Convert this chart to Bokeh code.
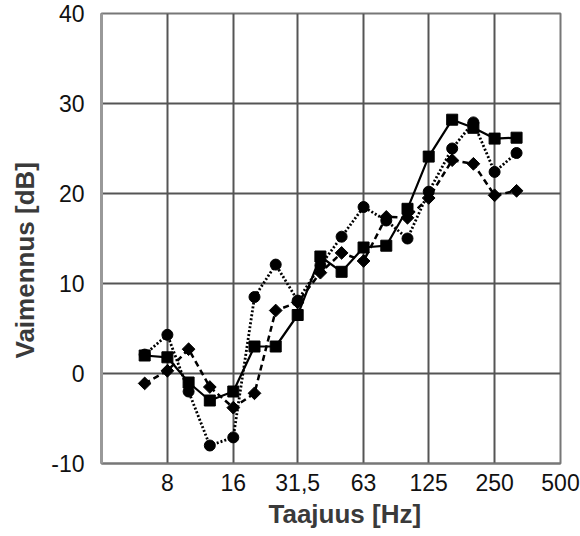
import math
from bokeh.plotting import figure
from bokeh.models import FixedTicker, Title, Range1d
from bokeh.embed import file_html
from bokeh.resources import INLINE

# third-octave band centre frequencies [Hz]
freqs = [6.3, 8, 10, 12.5, 16, 20, 25, 31.5, 40, 50, 63, 80, 100, 125, 160, 200, 250, 315]

# attenuation [dB] per series
series_square = [2.0, 1.8, -1.0, -3.0, -2.0, 3.0, 3.0, 6.5, 13.0, 11.3, 14.0, 14.2, 18.3, 24.1, 28.2, 27.3, 26.1, 26.2]
series_circle = [2.1, 4.3, -2.0, -8.0, -7.1, 8.5, 12.1, 8.1, 12.0, 15.2, 18.5, 17.0, 15.0, 20.2, 25.0, 27.9, 22.4, 24.5]
series_diamond = [-1.1, 0.3, 2.7, -1.5, -3.8, -2.2, 7.0, 7.9, 11.2, 13.4, 12.5, 17.4, 17.3, 19.5, 23.7, 23.3, 19.8, 20.3]

x_ticks = [8, 16, 31.5, 63, 125, 250, 500]
x_tick_labels = ["8", "16", "31,5", "63", "125", "250", "500"]
y_ticks = [-10, 0, 10, 20, 30, 40]
y_tick_labels = ["-10", "0", "10", "20", "30", "40"]

FONT = "Liberation Sans"

p = figure(width=580, height=536, x_axis_type="log",
           x_range=Range1d(4, 500), y_range=Range1d(-10, 40),
           output_backend="svg", toolbar_location=None,
           min_border_left=100, min_border_right=20,
           min_border_top=13, min_border_bottom=73)
p.background_fill_color = "white"
p.border_fill_color = "white"
p.outline_line_color = "#777777"
p.outline_line_width = 2

# axes
p.xaxis.ticker = FixedTicker(ticks=x_ticks, minor_ticks=[])
p.xaxis.major_label_overrides = dict(zip(x_ticks, x_tick_labels))
p.yaxis.ticker = FixedTicker(ticks=y_ticks, minor_ticks=[])
p.yaxis.major_label_overrides = dict(zip(y_ticks, y_tick_labels))
for ax in (p.xaxis, p.yaxis):
    ax.major_tick_line_color = None
    ax.minor_tick_line_color = None
    ax.major_label_text_font = FONT
    ax.major_label_text_font_size = "23px"
    ax.major_label_text_color = "#111111"
p.xaxis.axis_line_color = "#777777"
p.xaxis.axis_line_width = 2
p.yaxis.axis_line_color = "#999999"
p.yaxis.axis_line_width = 3
p.xaxis.major_label_standoff = 4
p.yaxis.major_label_standoff = 11

# grid
p.xgrid.ticker = FixedTicker(ticks=x_ticks, minor_ticks=[])
p.ygrid.ticker = FixedTicker(ticks=y_ticks, minor_ticks=[])
for g in (p.xgrid, p.ygrid):
    g.grid_line_color = "#555555"
    g.grid_line_width = 2
    g.grid_line_alpha = 1.0

# axis titles
xt = Title(text="Taajuus [Hz]", align="left", offset=167, standoff=6,
           text_font=FONT, text_font_style="bold", text_font_size="26px",
           text_color="#3a3a3a")
yt = Title(text="Vaimennus [dB]", align="left", offset=105, standoff=16,
           vertical_align="middle",
           text_font=FONT, text_font_style="bold", text_font_size="26px",
           text_color="#3a3a3a")
p.add_layout(xt, "below")
p.add_layout(yt, "left")

# series
p.line(freqs, series_square, line_color="black", line_width=2.2)
p.scatter(freqs, series_square, marker="square", size=11, color="black")

p.line(freqs, series_circle, line_color="black", line_width=2.8, line_dash="2 2")
p.scatter(freqs, series_circle, marker="circle", size=11, color="black")

p.line(freqs, series_diamond, line_color="black", line_width=2.5, line_dash="6 4")
p.scatter(freqs, series_diamond, marker="square", size=9, angle=math.pi / 4, color="black")

open("out.html", "w").write(file_html(p, INLINE))
